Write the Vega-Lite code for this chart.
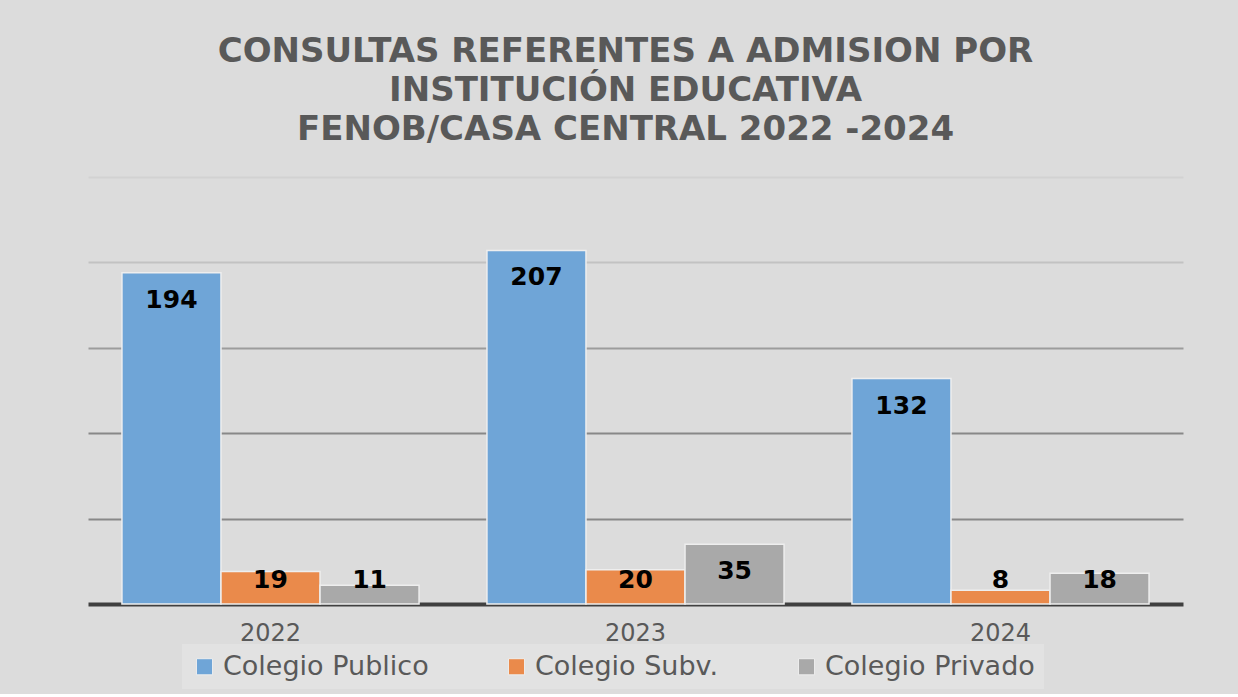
{
  "$schema": "https://vega.github.io/schema/vega-lite/v6.json",
  "width": 1095,
  "height": 427,
  "padding": {"left": 88, "top": 35, "right": 55, "bottom": 5},
  "background": "#dcdcdc",
  "title": {
    "text": ["CONSULTAS REFERENTES A ADMISION POR", "INSTITUCIÓN EDUCATIVA", "FENOB/CASA CENTRAL 2022 -2024"],
    "font": "DejaVu Sans",
    "fontWeight": "bold",
    "fontSize": 34,
    "lineHeight": 39,
    "color": "#595959",
    "anchor": "middle",
    "dx": -10,
    "offset": 30
  },
  "data": {
    "values": [
      {"year": "2022", "tipo": "Colegio Publico", "value": 194},
      {"year": "2022", "tipo": "Colegio Subv.", "value": 19},
      {"year": "2022", "tipo": "Colegio Privado", "value": 11},
      {"year": "2023", "tipo": "Colegio Publico", "value": 207},
      {"year": "2023", "tipo": "Colegio Subv.", "value": 20},
      {"year": "2023", "tipo": "Colegio Privado", "value": 35},
      {"year": "2024", "tipo": "Colegio Publico", "value": 132},
      {"year": "2024", "tipo": "Colegio Subv.", "value": 8},
      {"year": "2024", "tipo": "Colegio Privado", "value": 18}
    ]
  },
  "encoding": {
    "x": {
      "field": "year", "type": "nominal",
      "scale": {"paddingInner": 0.186, "paddingOuter": 0.093},
      "axis": {
        "title": null, "labelAngle": 0, "ticks": false,
        "domainColor": "#404040", "domainWidth": 4,
        "labelFont": "DejaVu Sans", "labelFontSize": 24, "labelColor": "#595959",
        "labelPadding": 17
      }
    },
    "xOffset": {
      "field": "tipo", "type": "nominal",
      "sort": ["Colegio Publico", "Colegio Subv.", "Colegio Privado"],
      "scale": {"paddingInner": 0, "paddingOuter": 0}
    }
  },
  "layer": [
    {
      "mark": {"type": "bar", "stroke": "#eeeeee", "strokeWidth": 1.5},
      "encoding": {
        "y": {
          "field": "value", "type": "quantitative",
          "scale": {"domain": [0, 250], "nice": false},
          "axis": {
            "title": null, "labels": false, "ticks": false, "domain": false,
            "values": [50, 100, 150, 200, 250],
            "gridWidth": 2,
            "gridColor": {
              "condition": [
                {"test": "datum.value >= 250", "value": "#d2d2d2"},
                {"test": "datum.value >= 200", "value": "#c2c2c2"},
                {"test": "datum.value >= 150", "value": "#9c9c9c"}
              ],
              "value": "#888888"
            }
          }
        },
        "color": {
          "field": "tipo", "type": "nominal",
          "sort": ["Colegio Publico", "Colegio Subv.", "Colegio Privado"],
          "scale": {
            "domain": ["Colegio Publico", "Colegio Subv.", "Colegio Privado"],
            "range": ["#6fa5d7", "#ea8a4b", "#a9a9a9"]
          },
          "legend": {
            "title": null,
            "orient": "none",
            "direction": "horizontal",
            "legendX": 94,
            "legendY": 467,
            "fillColor": "rgba(232,232,232,0.45)",
            "padding": 9,
            "symbolType": "square",
            "symbolSize": 260,
            "symbolStrokeColor": "#eeeeee",
            "symbolStrokeWidth": 1,
            "labelFont": "DejaVu Sans",
            "labelFontSize": 27,
            "labelColor": "#595959",
            "labelLimit": 400,
            "labelOffset": 5,
            "columnPadding": 74
          }
        }
      }
    },
    {
      "transform": [{"calculate": "max(datum.value, 30)", "as": "labelPos"}],
      "mark": {"type": "text", "font": "DejaVu Sans", "fontWeight": "bold", "fontSize": 25, "color": "#000000", "baseline": "middle", "dy": 27},
      "encoding": {
        "y": {"field": "labelPos", "type": "quantitative", "scale": {"domain": [0, 250], "nice": false}},
        "text": {"field": "value", "type": "quantitative"}
      }
    }
  ],
  "config": {
    "view": {"stroke": null}
  }
}
